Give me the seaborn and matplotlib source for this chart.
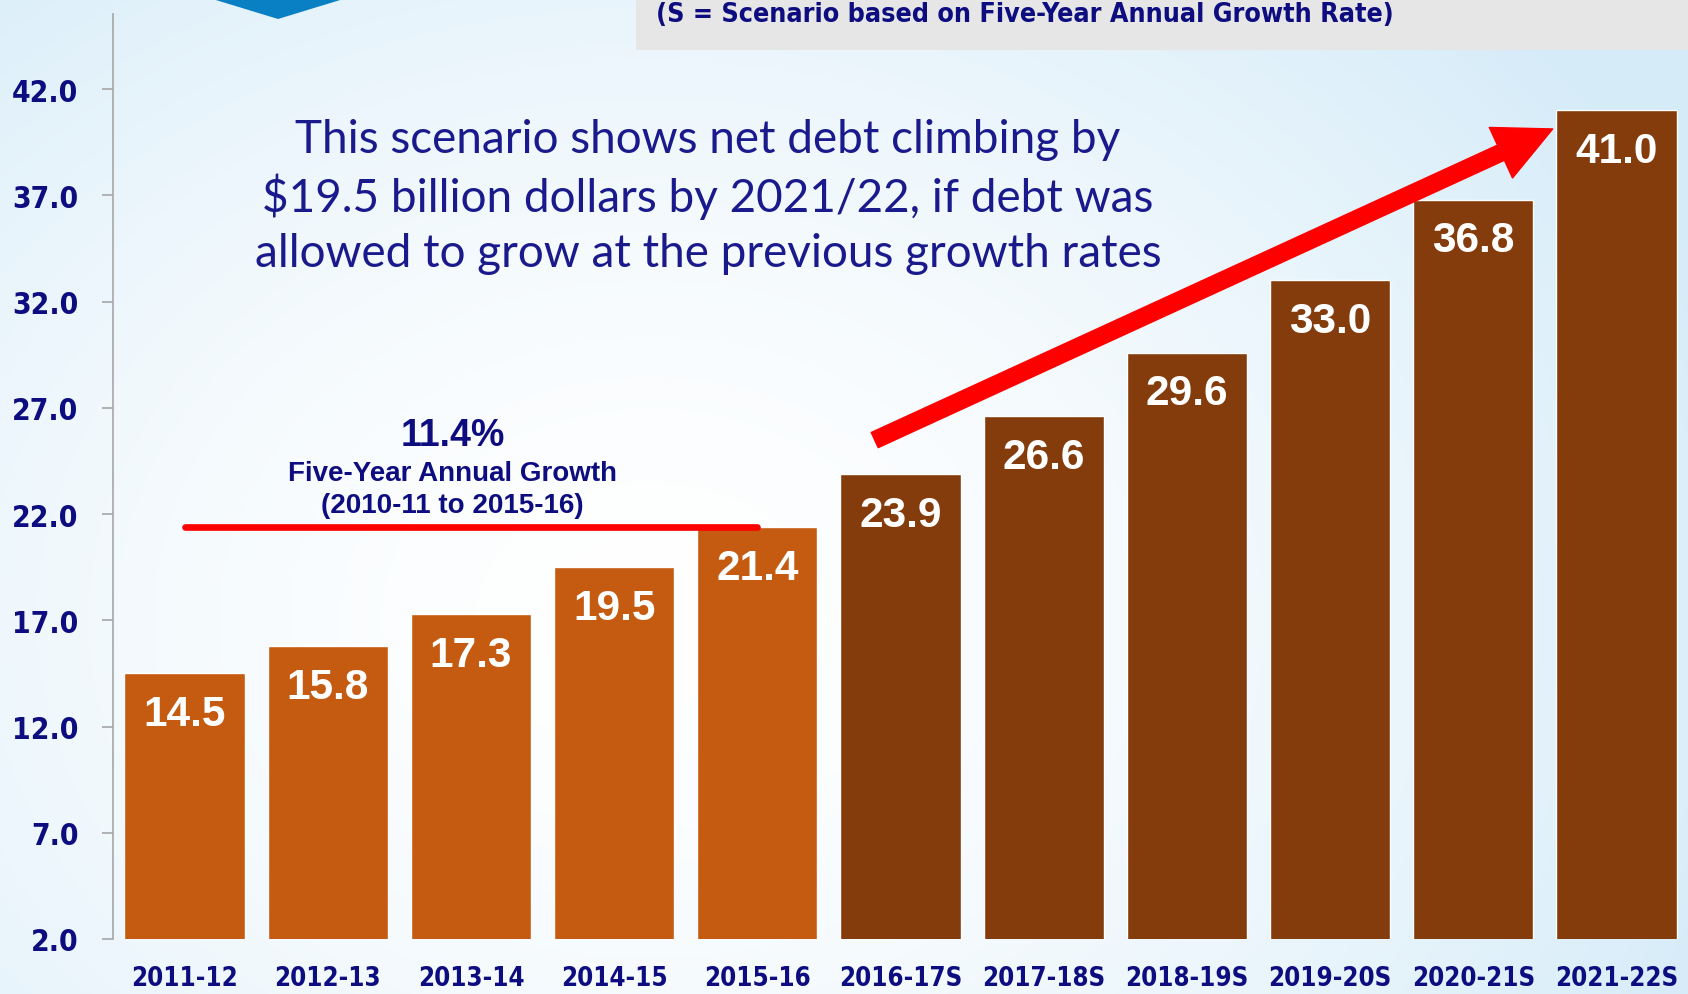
import numpy as np
import pandas as pd
import matplotlib
matplotlib.use("Agg")
import matplotlib.pyplot as plt
from matplotlib import font_manager
from matplotlib.font_manager import FontProperties
from matplotlib.patches import FancyArrowPatch, Polygon, Rectangle
import seaborn as sns

categories = ["2011-12", "2012-13", "2013-14", "2014-15", "2015-16",
              "2016-17S", "2017-18S", "2018-19S", "2019-20S", "2020-21S", "2021-22S"]
values = [14.5, 15.8, 17.3, 19.5, 21.4, 23.9, 26.6, 29.6, 33.0, 36.8, 41.0]
is_scenario = [False] * 5 + [True] * 6
yticks = [2.0, 7.0, 12.0, 17.0, 22.0, 27.0, 32.0, 37.0, 42.0]
growth_label = "11.4%"
growth_sub1 = "Five-Year Annual Growth"
growth_sub2 = "(2010-11 to 2015-16)"
note_lines = ["This scenario shows net debt climbing by",
              "$19.5 billion dollars by 2021/22, if debt was",
              "allowed to grow at the previous growth rates"]
header = "(S = Scenario based on Five-Year Annual Growth Rate)"

ACTUAL = "#C55A11"
SCEN = "#843C0C"
NAVY = "#0D0D80"

sns.set_theme(style="white")
fl = font_manager.fontManager.ttflist
names = {f.name for f in fl}
ARIAL = "Liberation Sans" if "Liberation Sans" in names else "DejaVu Sans"
HUMAN = "Lato" if "Lato" in names else "DejaVu Sans"
plt.rcParams["font.family"] = [ARIAL, "DejaVu Sans"]


def wt(f):
    w = f.weight
    if isinstance(w, str):
        return 700 if "bold" in w.lower() else 400
    return w


cond = [f for f in fl if ("Condensed" in f.name or "Narrow" in f.name
                          or "ondensed" in str(f.stretch) or "Condensed" in f.fname
                          or "Narrow" in f.fname)
        and "Italic" not in f.fname and "Oblique" not in f.fname and f.style == "normal"]
cond.sort(key=lambda f: (abs(wt(f) - 700), "Sans" not in f.name))
if cond:
    def narrow(size):
        return FontProperties(fname=cond[0].fname, size=size)
else:
    def narrow(size):
        return FontProperties(family=ARIAL, weight="bold", size=size * 0.9)

W, H = 1688, 995
fig = plt.figure(figsize=(W / 100, H / 100), dpi=100)

# background gradient
bg = fig.add_axes([0, 0, 1, 1], zorder=-10)
yy, xx = np.mgrid[0:H:2, 0:W:2]
d = np.sqrt(((xx - 650) / 1150.0) ** 2 + ((yy - 620) / 900.0) ** 2)
d = np.clip(d, 0, 1)
white = np.array([1.0, 1.0, 1.0])
blue = np.array([0.84, 0.925, 0.975])
img = white[None, None, :] * (1 - d[..., None] ** 1.6) + blue[None, None, :] * (d[..., None] ** 1.6)
bg.imshow(img, extent=[0, W, H, 0], aspect="auto")
bg.set_xlim(0, W)
bg.set_ylim(H, 0)
bg.axis("off")
bg.add_patch(Rectangle((636, 0), W - 636, 51, facecolor="#E6E6E6", edgecolor="none"))
bg.add_patch(Polygon([(206, -2), (350, -2), (278, 20)], closed=True, facecolor="#0A80C4", edgecolor="none"))
bg.text(656, 22, header, fontproperties=narrow(19.3), color=NAVY,
        ha="left", va="baseline")

ax = fig.add_axes([113 / W, 55 / H, (W - 113) / W, 925 / H])
ax.patch.set_alpha(0)

df = pd.DataFrame({"year": categories, "value": values})
colors = [SCEN if s else ACTUAL for s in is_scenario]
sns.barplot(data=df, x="year", y="value", hue="year", palette=colors,
            legend=False, width=0.84, saturation=1, ax=ax)

ax.set_xlim(-0.5, len(categories) - 0.5)
ax.set_ylim(2.0, 45.53)
ax.set_yticks(yticks)
ax.set_yticklabels([f"{t:.1f}" for t in yticks], color=NAVY)
for t in ax.get_yticklabels():
    t.set_fontproperties(narrow(21.5))
ax.set_xticks(range(len(categories)))
ax.set_xticklabels(categories, color=NAVY)
for t in ax.get_xticklabels():
    t.set_fontproperties(narrow(18.5))
ax.set_xlabel("")
ax.set_ylabel("")
for s in ["top", "right", "bottom"]:
    ax.spines[s].set_visible(False)
ax.spines["left"].set_color("#A6A6A6")
ax.spines["left"].set_linewidth(1.2)
ax.tick_params(axis="y", left=True, length=8, width=1.2, color="#A6A6A6", pad=17)
ax.tick_params(axis="x", bottom=False, pad=13)

for i, v in enumerate(values):
    ax.annotate(f"{v:.1f}", (i, v), xytext=(0, -29.5), textcoords="offset points",
                ha="center", va="center", color="white", fontsize=30.5,
                fontweight="bold", family=[ARIAL, "DejaVu Sans"])

# growth reference line across actual years
ax.plot([0, 4], [values[4], values[4]], color="#FF0000", lw=4.8,
        solid_capstyle="round", zorder=5)
ax.text(1.87, 25.72, growth_label, ha="center", va="center", fontsize=27,
        fontweight="bold", color=NAVY)
ax.text(1.87, 23.94, growth_sub1, ha="center", va="center", fontsize=20,
        fontweight="bold", color=NAVY)
ax.text(1.87, 22.42, growth_sub2, ha="center", va="center", fontsize=20,
        fontweight="bold", color=NAVY)

arrow = FancyArrowPatch((4.82, 25.48), (9.555, 40.12),
                        arrowstyle="simple,head_length=41,head_width=40,tail_width=12",
                        mutation_scale=1, color="#FF0000", shrinkA=0, shrinkB=0, zorder=6)
ax.add_patch(arrow)

for k, line in enumerate(note_lines):
    fig.text(708 / W, 1 - (140 + 57 * k) / H, line, ha="center", va="center",
             fontsize=33, color="#1A1A8C", family=[HUMAN, "DejaVu Sans"])

fig.savefig("out.png", dpi=100)
